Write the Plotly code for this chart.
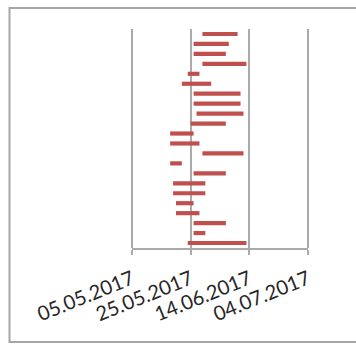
import plotly.graph_objects as go
import pandas as pd

tasks = [f"Task {i}" for i in range(1, 23)]
starts = ["2017-05-29", "2017-05-26", "2017-05-26", "2017-05-29", "2017-05-24",
          "2017-05-22", "2017-05-26", "2017-05-26", "2017-05-27", "2017-05-25",
          "2017-05-18", "2017-05-18", "2017-05-29", "2017-05-18", "2017-05-26",
          "2017-05-19", "2017-05-19", "2017-05-20", "2017-05-20", "2017-05-26",
          "2017-05-26", "2017-05-24"]
ends = ["2017-06-10", "2017-06-07", "2017-06-06", "2017-06-13", "2017-05-28",
        "2017-06-01", "2017-06-11", "2017-06-11", "2017-06-12", "2017-06-06",
        "2017-05-26", "2017-05-28", "2017-06-12", "2017-05-22", "2017-06-06",
        "2017-05-30", "2017-05-30", "2017-05-26", "2017-05-28", "2017-06-06",
        "2017-05-30", "2017-06-13"]
tick_vals = ["2017-05-05", "2017-05-25", "2017-06-14", "2017-07-04"]
tick_text = ["05.05.2017", "25.05.2017", "14.06.2017", "04.07.2017"]

s = pd.to_datetime(starts)
e = pd.to_datetime(ends)
dur_ms = [(b - a).total_seconds() * 1000 for a, b in zip(s, e)]

fig = go.Figure(go.Bar(
    y=tasks, x=dur_ms, base=starts, orientation="h",
    marker=dict(color="#C0504D", line=dict(width=0)),
    width=0.42,
))

W, H = 356, 344
L, R, T, B = 132, 48, 29, 96
pw, ph = W - L - R, H - T - B

fig.update_layout(
    width=W, height=H,
    margin=dict(l=L, r=R, t=T, b=B, autoexpand=False),
    plot_bgcolor="white", paper_bgcolor="white",
    showlegend=False,
    font=dict(family="Lato", size=20, color="#262626"),
)
fig.update_xaxes(
    type="date", range=[tick_vals[0], tick_vals[-1]],
    tickvals=tick_vals, ticktext=tick_text, tickangle=-22,
    showgrid=True, gridcolor="#ababab", gridwidth=2,
    showline=True, linecolor="#ababab", linewidth=2,
    ticks="outside", ticklen=5, tickcolor="#ababab", tickwidth=2,
    ticklabelstandoff=5, zeroline=False,
)
fig.update_yaxes(
    categoryorder="array", categoryarray=tasks, autorange="reversed",
    showticklabels=False, showgrid=False, showline=False, zeroline=False,
    ticks="",
)

# edge gridlines (plotly omits grid lines on the range boundaries)
for xv in (0, 1):
    fig.add_shape(type="line", xref="paper", yref="paper", x0=xv, x1=xv, y0=0, y1=1,
                  line=dict(color="#ababab", width=2), layer="below")

# outer chart frame
def px_x(p):
    return (p - L) / pw

def px_y(p):
    return (H - B - p) / ph

frame = dict(color="#a6a6a6", width=2)
fig.add_shape(type="rect", xref="paper", yref="paper",
              x0=px_x(9.5), x1=px_x(W + 5), y0=px_y(342), y1=px_y(8),
              line=frame, layer="above")

fig.write_html("out.html", config={"displayModeBar": False},
               post_script="document.body.style.margin='0';document.body.style.overflow='hidden';")
